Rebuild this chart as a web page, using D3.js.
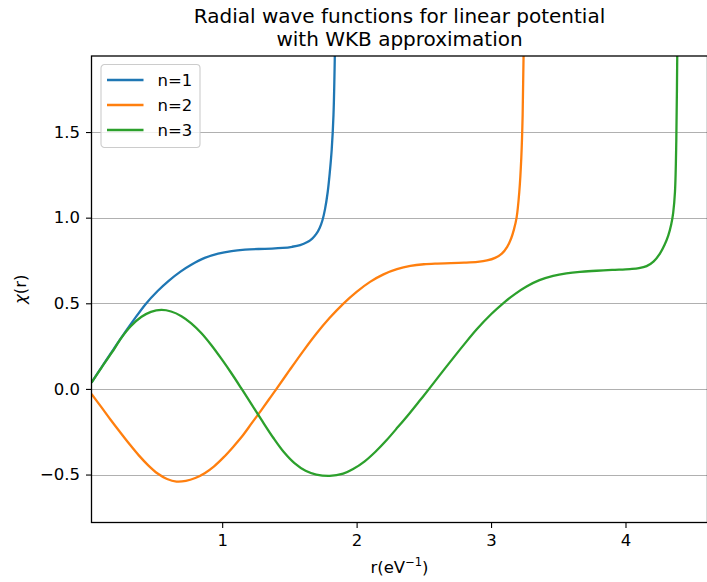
<!DOCTYPE html>
<html lang="en">
<head>
  <meta charset="UTF-8" />
  <title>Radial wave functions for linear potential</title>
  <script src="https://d3js.org/d3.v7.min.js"></script>
  <style>
    html, body {
      margin: 0;
      padding: 0;
      background: #fff;
      overflow: hidden;
    }
    svg text {
      font-family: "DejaVu Sans", sans-serif;
      fill: #000;
    }
  </style>
</head>
<body>
  <div id="chart"></div>

  <script>
    // ---- data ----
    const seriesNames = ["n=1", "n=2", "n=3"];
    const seriesColors = ["#1f77b4", "#ff7f0e", "#2ca02c"];

    // n=1
    const r1 = [0.028, 0.10, 0.18, 0.25, 0.34, 0.43, 0.52, 0.60, 0.69, 0.77, 0.87, 0.97, 1.07, 1.17, 1.27, 1.37,
                1.45, 1.52, 1.58, 1.63, 1.67, 1.70, 1.725, 1.746, 1.765, 1.785, 1.80, 1.815, 1.828, 1.838, 1.845];
    const chi1 = [0.037, 0.123, 0.218, 0.30, 0.40, 0.495, 0.572, 0.63, 0.685, 0.725, 0.765, 0.79, 0.805, 0.813, 0.817, 0.819,
                  0.823, 0.83, 0.84, 0.856, 0.878, 0.905, 0.94, 0.985, 1.05, 1.15, 1.26, 1.4, 1.6, 1.95, 2.4];

    // n=2
    const r2 = [0.028, 0.10, 0.17, 0.24, 0.31, 0.38, 0.45, 0.52, 0.59, 0.66, 0.73, 0.80, 0.87, 0.94, 1.01, 1.08,
                1.15, 1.22, 1.29, 1.35, 1.404, 1.50, 1.60, 1.70, 1.80, 1.90, 2.00, 2.10, 2.20, 2.30, 2.40,
                2.50, 2.60, 2.70, 2.80, 2.90, 2.97, 3.03, 3.08, 3.12, 3.15, 3.17, 3.19, 3.21, 3.225, 3.235, 3.242, 3.248];
    const chi2 = [-0.029, -0.105, -0.18, -0.252, -0.322, -0.388, -0.446, -0.494, -0.526, -0.541, -0.537, -0.52, -0.492, -0.452, -0.40, -0.34,
                  -0.275, -0.2, -0.125, -0.059, 0.0, 0.108, 0.218, 0.322, 0.415, 0.497, 0.567, 0.625, 0.669, 0.699, 0.718,
                  0.728, 0.732, 0.734, 0.737, 0.742, 0.75, 0.765, 0.79, 0.83, 0.88, 0.93, 1.0, 1.15, 1.35, 1.6, 1.95, 2.4];

    // n=3
    const r3 = [0.028, 0.10, 0.18, 0.25, 0.32, 0.40, 0.47, 0.548, 0.62, 0.697, 0.77, 0.846, 0.92, 0.995, 1.07, 1.145,
                1.22, 1.30, 1.38, 1.46, 1.54, 1.62, 1.70, 1.80, 1.90, 1.974, 2.06, 2.14, 2.222, 2.31, 2.396, 2.47,
                2.545, 2.63, 2.718, 2.80, 2.892, 3.00, 3.09, 3.18, 3.264, 3.36, 3.462, 3.56, 3.661, 3.785, 3.90,
                4.033, 4.10, 4.157, 4.21, 4.256, 4.29, 4.318, 4.34, 4.355, 4.368, 4.378, 4.385, 4.39];
    const chi3 = [0.037, 0.122, 0.213, 0.298, 0.366, 0.421, 0.450, 0.461, 0.452, 0.425, 0.383, 0.325, 0.255, 0.175, 0.09, 0.0,
                  -0.092, -0.19, -0.285, -0.37, -0.435, -0.478, -0.50, -0.508, -0.495, -0.468, -0.423, -0.367, -0.30, -0.22, -0.14, -0.068,
                  0.006, 0.092, 0.18, 0.26, 0.347, 0.436, 0.50, 0.555, 0.598, 0.635, 0.66, 0.675, 0.684, 0.69, 0.695,
                  0.70, 0.705, 0.717, 0.745, 0.79, 0.84, 0.895, 0.96, 1.03, 1.15, 1.45, 1.95, 2.4];

    const xTicks = [1, 2, 3, 4];
    const yTicks = [-0.5, 0.0, 0.5, 1.0, 1.5];

    const width = 707, height = 582;
    const plot = { left: 91.5, right: 707.5, top: 56, bottom: 522.5 };

    const svg = d3.select("#chart").append("svg")
      .attr("width", width)
      .attr("height", height);

    const x = d3.scaleLinear().domain([0.028, 4.61]).range([plot.left, plot.right]);
    const y = d3.scaleLinear().domain([-0.78, 1.944]).range([plot.bottom, plot.top]);

    // horizontal grid
    svg.append("g")
      .selectAll("line")
      .data(yTicks)
      .enter().append("line")
      .attr("x1", plot.left).attr("x2", plot.right)
      .attr("y1", d => Math.round(y(d)) + 0.5).attr("y2", d => Math.round(y(d)) + 0.5)
      .attr("stroke", "#b0b0b0")
      .attr("stroke-width", 1.2);

    // clip to the axes box
    svg.append("clipPath").attr("id", "clip")
      .append("rect")
      .attr("x", plot.left).attr("y", plot.top)
      .attr("width", plot.right - plot.left).attr("height", plot.bottom - plot.top);

    const line = d3.line()
      .x(d => x(d[0]))
      .y(d => y(d[1]))
      .curve(d3.curveCatmullRom.alpha(0.5));

    const allSeries = [
      d3.zip(r1, chi1),
      d3.zip(r2, chi2),
      d3.zip(r3, chi3)
    ];

    svg.append("g")
      .attr("clip-path", "url(#clip)")
      .selectAll("path")
      .data(allSeries)
      .enter().append("path")
      .attr("d", line)
      .attr("fill", "none")
      .attr("stroke", (d, i) => seriesColors[i])
      .attr("stroke-width", 2.3)
      .attr("stroke-linejoin", "round");

    // axes
    const fmtY = d => d3.format(".1f")(d).replace("-", "\u2212");

    const xAxis = svg.append("g")
      .attr("transform", `translate(0,${plot.bottom})`)
      .call(d3.axisBottom(x).tickValues(xTicks).tickFormat(d3.format("d")).tickSize(5.5).tickPadding(6));

    const yAxis = svg.append("g")
      .attr("transform", `translate(${plot.left},0)`)
      .call(d3.axisLeft(y).tickValues(yTicks).tickFormat(fmtY).tickSize(5.5).tickPadding(6));

    [xAxis, yAxis].forEach(g => {
      g.select(".domain").remove();
      g.selectAll("line").attr("stroke", "#000").attr("stroke-width", 1.1);
      g.selectAll("text")
        .attr("font-family", "DejaVu Sans")
        .attr("font-size", 16.5)
        .attr("fill", "#000");
    });

    // spines
    svg.append("rect")
      .attr("x", plot.left).attr("y", plot.top)
      .attr("width", plot.right - plot.left).attr("height", plot.bottom - plot.top)
      .attr("fill", "none")
      .attr("stroke", "#000")
      .attr("stroke-width", 1.3);

    // title
    const title = svg.append("text")
      .attr("text-anchor", "middle")
      .attr("font-size", 20);
    title.append("tspan").attr("x", (plot.left + plot.right) / 2).attr("y", 23)
      .text("Radial wave functions for linear potential");
    title.append("tspan").attr("x", (plot.left + plot.right) / 2).attr("y", 46)
      .text("with WKB approximation");

    // x label
    const xl = svg.append("text")
      .attr("x", (plot.left + plot.right) / 2)
      .attr("y", 573)
      .attr("text-anchor", "middle")
      .attr("font-size", 16.5);
    xl.append("tspan").text("r(eV");
    xl.append("tspan").attr("font-size", 11.5).attr("dy", -7).text("\u22121");
    xl.append("tspan").attr("dy", 7).text(")");

    // y label
    const yl = svg.append("text")
      .attr("transform", `translate(26,${(plot.top + plot.bottom) / 2}) rotate(-90)`)
      .attr("text-anchor", "middle")
      .attr("font-size", 16.5);
    yl.append("tspan").attr("font-style", "italic").text("\u03c7");
    yl.append("tspan").text("(r)");

    // legend
    const legend = svg.append("g").attr("transform", "translate(101,64.5)");
    legend.append("rect")
      .attr("width", 99).attr("height", 83)
      .attr("rx", 3.5)
      .attr("fill", "#fff").attr("fill-opacity", 0.8)
      .attr("stroke", "#cccccc").attr("stroke-width", 1.1);

    const rows = legend.selectAll("g.row")
      .data(seriesNames)
      .enter().append("g")
      .attr("class", "row")
      .attr("transform", (d, i) => `translate(0,${15.5 + i * 25})`);
    rows.append("line")
      .attr("x1", 6).attr("x2", 42.5)
      .attr("stroke", (d, i) => seriesColors[i])
      .attr("stroke-width", 2.3);
    rows.append("text")
      .attr("x", 56.5).attr("y", 6)
      .attr("font-size", 16.5)
      .text(d => d);
  </script>
</body>
</html>
